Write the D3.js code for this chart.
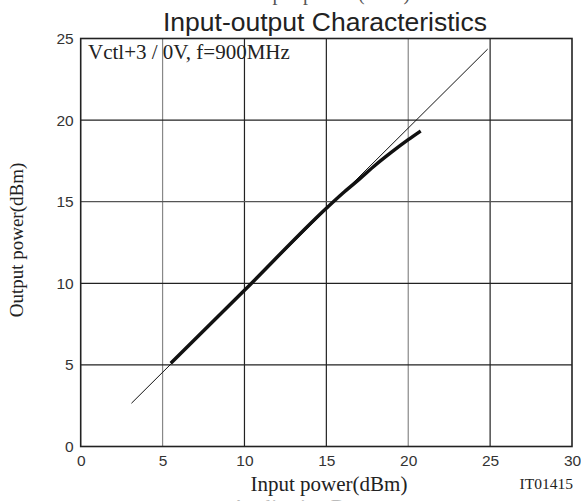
<!DOCTYPE html>
<meta charset="utf-8">
<head>
<script src="https://cdn.jsdelivr.net/npm/d3@7"></script>
<style>
  body { margin: 0; background: #fff; }
  .tick text { font-family: "Liberation Sans", Arial, sans-serif; font-size: 15.5px; fill: #333; }
  .serif { font-family: "Liberation Serif", "Times New Roman", serif; fill: #222; }
</style>
</head>
<body>
<svg id="chart" width="581" height="501"></svg>
<script>
// data
var xTicks = [0, 5, 10, 15, 20, 25, 30];
var yTicks = [0, 5, 10, 15, 20, 25];
var refIn = [3.1, 24.85];     // thin reference line (Pout = Pin - 0.5)
var refOut = [2.65, 24.35];
var pin = [5.5, 10, 15, 16, 17, 18, 19, 20, 20.76];
var pout = [5.1, 9.57, 14.6, 15.52, 16.37, 17.25, 18.05, 18.8, 19.33];
// scan makes some grid lines look lighter
var greyX = [5, 20];
var greyY = [15];

var svg = d3.select("#chart");
var m = {left: 80.7, right: 572, top: 38.5, bottom: 446.5};

var x = d3.scaleLinear().domain([0, 30]).range([m.left, m.right]);
var y = d3.scaleLinear().domain([0, 25]).range([m.bottom, m.top]);

// cut-off text at the very top
svg.append("text").attr("class", "serif")
    .attr("x", 333).attr("y", 0).attr("text-anchor", "middle")
    .style("font-size", "20px").style("fill", "#555")
    .text("Input power (dBm)");

svg.append("text")
    .attr("x", 325).attr("y", 31).attr("text-anchor", "middle")
    .style("font-family", "'Liberation Sans', Arial, sans-serif")
    .style("font-size", "26.5px").style("fill", "#222")
    .text("Input-output Characteristics");

// grid
svg.append("g").selectAll("line").data(xTicks.slice(1, -1)).enter().append("line")
    .attr("x1", x).attr("x2", x).attr("y1", m.top).attr("y2", m.bottom)
    .attr("stroke", function(d){ return greyX.indexOf(d) >= 0 ? "#888" : "#222"; })
    .attr("stroke-width", 1.2);
svg.append("g").selectAll("line").data(yTicks.slice(1, -1)).enter().append("line")
    .attr("y1", y).attr("y2", y).attr("x1", m.left).attr("x2", m.right)
    .attr("stroke", function(d){ return greyY.indexOf(d) >= 0 ? "#555" : "#222"; })
    .attr("stroke-width", 1.2);

svg.append("rect")
    .attr("x", m.left).attr("y", m.top)
    .attr("width", m.right - m.left).attr("height", m.bottom - m.top)
    .attr("fill", "none").attr("stroke", "#222").attr("stroke-width", 1.6);

// axes (labels only)
var xAxis = svg.append("g").attr("transform", "translate(0," + m.bottom + ")")
    .call(d3.axisBottom(x).tickValues(xTicks).tickSize(0).tickPadding(8));
var yAxis = svg.append("g").attr("transform", "translate(" + m.left + ",0)")
    .call(d3.axisLeft(y).tickValues(yTicks).tickSize(0).tickPadding(7));
xAxis.select(".domain").remove();
yAxis.select(".domain").remove();

var line = d3.line().x(function(d){ return x(d[0]); }).y(function(d){ return y(d[1]); });

svg.append("path")
    .datum(d3.zip(refIn, refOut))
    .attr("d", line).attr("fill", "none")
    .attr("stroke", "#111").attr("stroke-width", 1);

svg.append("path")
    .datum(d3.zip(pin, pout))
    .attr("d", line.curve(d3.curveMonotoneX)).attr("fill", "none")
    .attr("stroke", "#111").attr("stroke-width", 3.5);

svg.append("text").attr("class", "serif")
    .attr("x", 88).attr("y", 59)
    .style("font-size", "21px")
    .text("Vctl+3 / 0V, f=900MHz");

svg.append("text").attr("class", "serif")
    .attr("x", 329).attr("y", 491).attr("text-anchor", "middle")
    .style("font-size", "21px")
    .text("Input power(dBm)");

svg.append("text").attr("class", "serif")
    .attr("transform", "translate(23,240) rotate(-90)")
    .attr("text-anchor", "middle")
    .style("font-size", "19px")
    .text("Output power(dBm)");

svg.append("text").attr("class", "serif")
    .attr("x", 573).attr("y", 489).attr("text-anchor", "end")
    .style("font-size", "15.5px")
    .text("IT01415");

// cut-off text at the bottom edge
svg.append("text").attr("class", "serif")
    .attr("x", 300).attr("y", 514).attr("text-anchor", "middle")
    .style("font-size", "20px").style("fill", "#bbb")
    .text("Application Data");
</script>
</body>
